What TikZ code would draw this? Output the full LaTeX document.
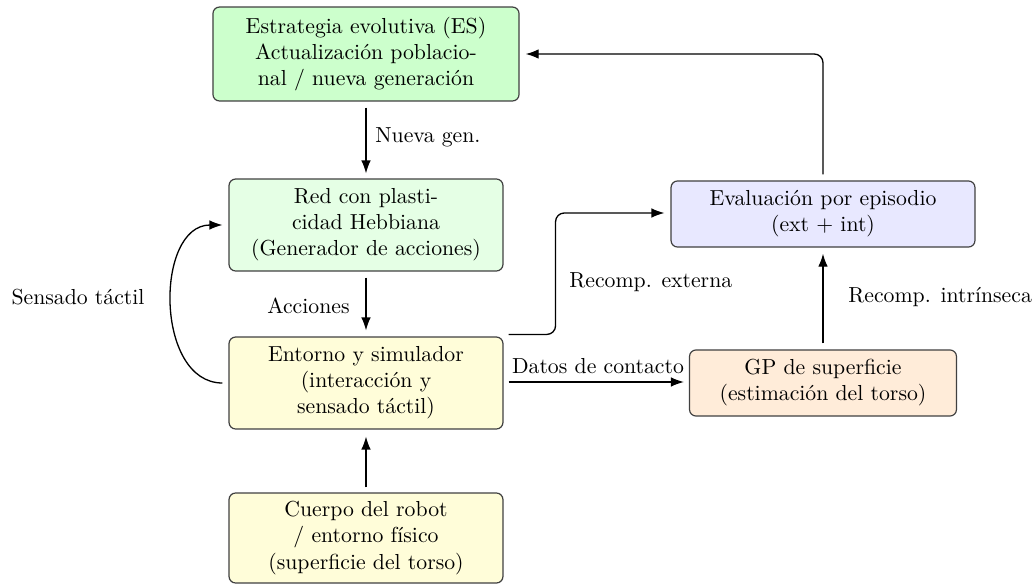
\documentclass[tikz,border=0pt]{standalone}
\usetikzlibrary{arrows.meta,calc}
\begin{document}
\begin{tikzpicture}[x=0.46pt,y=-0.46pt,
  box/.style={draw=black!75, line width=0.55pt, rounded corners=3pt, align=center, inner sep=0pt},
  box3/.style={box, minimum width=126pt, minimum height=42.3pt},
  box2/.style={box, minimum height=30.4pt},
  arr/.style={-{Latex[length=6pt,width=4.4pt]}, line width=0.6pt, black},
  lbl/.style={inner sep=0pt}]
\useasboundingbox (0,0) rectangle (1036,585);
% boxes
\node[box, fill=green!20, minimum width=140.8pt, minimum height=43.2pt] (es) at (366,54)
  {Estrategia evolutiva (ES)\\Actualización poblacio-\\nal / nueva generación};
\node[box3, fill=green!10] (red) at (366,225)
  {Red con plasti-\\cidad Hebbiana\\(Generador de acciones)};
\node[box3, fill=yellow!15] (ent) at (366,383)
  {Entorno y simulador\\(interacción y\\sensado táctil)};
\node[box3, fill=yellow!15, minimum height=41.4pt] (cue) at (366,538)
  {Cuerpo del robot\\/ entorno físico\\(superficie del torso)};
\node[box2, fill=blue!9, minimum width=139.8pt] (eval) at (823,214)
  {Evaluación por episodio\\(ext $+$ int)};
\node[box2, fill=orange!15, minimum width=122.8pt] (gp) at (823,383)
  {GP de superficie\\(estimación del torso)};
% labels
\node[lbl, anchor=west] (lnueva) at (375,137) {Nueva gen.};
\node[lbl, anchor=east] (lacc) at (350,306) {Acciones};
\node[lbl] (lsens) at (78,297) {Sensado táctil};
\node[lbl, anchor=south] (ldatos) at (598,374) {Datos de contacto};
\node[lbl, anchor=west] (lext) at (569,282) {Recomp. externa};
\node[lbl, anchor=west] (lint) at (848,297) {Recomp. intrínseca};
% connectors
\draw[arr] ($(es.south)+(0,6)$) -- ($(red.north)+(0,-5)$);
\draw[arr] ($(red.south)+(0,6)$) -- ($(ent.north)+(0,-6)$);
\draw[arr] ($(cue.north)+(0,-5)$) -- ($(ent.south)+(0,7)$);
\draw[arr] ($(ent.east)+(5,-1)$) -- ($(gp.west)+(-5,-1)$);
\draw[arr, rounded corners=4pt] ($(ent.north east)+(5,-2)$) -- ++(47,0) |- ($(eval.west)+(-6,-1)$);
\draw[arr] ($(gp.north)+(0,-6)$) -- ($(eval.south)+(0,6)$);
\draw[arr, rounded corners=4pt] ($(eval.north)+(0,-6)$) |- ($(es.east)+(6,0)$);
\draw[arr] ($(ent.west)+(-6,0)$) to[out=180,in=180,looseness=1.1] ($(red.west)+(-6,0)$);
\end{tikzpicture}
\end{document}
